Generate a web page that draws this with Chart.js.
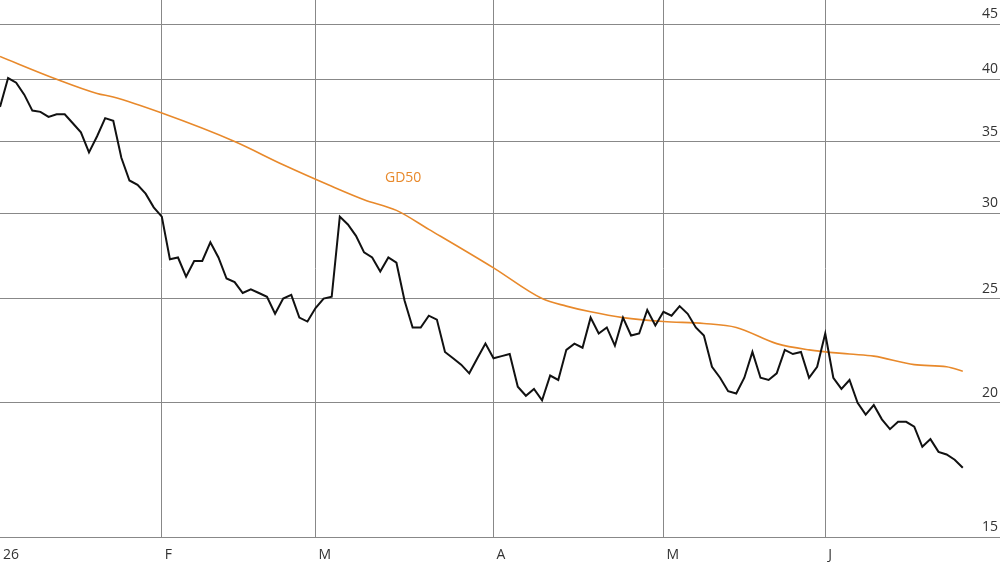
<!DOCTYPE html>
<html>
<head>
<meta charset="utf-8">
<script src="https://cdn.jsdelivr.net/npm/chart.js@4"></script>
<style>
html,body{margin:0;padding:0;background:#fff;}
#wrap{width:1000px;height:562px;}
</style>
</head>
<body>
<div id="wrap"><canvas id="chart"></canvas></div>
<script>
// closing price, one point per trading day
const price = [37.7,40.1,39.7,38.7,37.4,37.3,36.9,37.1,37.1,36.4,
  35.7,34.2,35.4,36.8,36.6,33.8,32.2,31.9,31.3,30.4,
  29.8,27.2,27.3,26.2,27.1,27.1,28.2,27.3,26.1,25.9,
  25.3,25.5,25.3,25.1,24.2,25.0,25.2,24.0,23.8,24.5,
  25.0,25.1,29.8,29.3,28.6,27.6,27.3,26.5,27.3,27.0,
  24.9,23.5,23.5,24.1,23.9,22.3,22.0,21.7,21.3,22.0,
  22.7,22.0,22.1,22.2,20.7,20.3,20.6,20.1,21.2,21.0,
  22.4,22.7,22.5,24.0,23.2,23.5,22.6,24.0,23.1,23.2,
  24.4,23.6,24.3,24.1,24.6,24.2,23.5,23.1,21.6,21.1,
  20.5,20.4,21.1,22.3,21.1,21.0,21.3,22.4,22.2,22.3,
  21.1,21.6,23.2,21.1,20.6,21.0,20.0,19.5,19.9,19.3,
  18.9,19.2,19.2,19.0,18.2,18.5,18.0,17.9,17.7,17.4];
// 50-day average, read at selected days
const gd50Days = [0,7,12,14,20,29,35,41,45,49,53,61,67,70,73,77,82,87,91,96,100,105,108,113,117,119];
const gd50 = [42.0,40.0,38.8,38.5,37.2,35.0,33.3,31.8,30.9,30.2,29.0,26.7,25.0,24.6,24.3,24.0,23.8,23.7,23.5,22.7,22.4,22.2,22.1,21.7,21.6,21.4];
const monthStarts = [0,20,39,61,82,102];
const monthLabels = ['26','F','M','A','M','J'];
const yTicks = [15,20,25,30,35,40,45];

const FONT = '"Open Sans", Lato, sans-serif';

const labelsPlugin = {
  id: 'labels',
  afterDraw(chart) {
    const c = chart.ctx, x = chart.scales.x, y = chart.scales.y;
    c.save();
    c.font = '14px ' + FONT;
    c.fillStyle = '#333';
    c.textBaseline = 'alphabetic';
    c.textAlign = 'left';
    monthStarts.forEach((d, i) => c.fillText(monthLabels[i], x.getPixelForValue(d) + 3, 559));
    c.textAlign = 'right';
    yTicks.forEach(v => c.fillText(String(v), 998, y.getPixelForValue(v) - 6));
    c.fillStyle = '#e8892b';
    c.textAlign = 'left';
    c.fillText('GD50', 385, 182);
    c.restore();
  }
};

new Chart(document.getElementById('chart'), {
  type: 'line',
  data: {
    datasets: [{
      data: price.map((v, i) => ({x: i, y: v})),
      borderColor: '#111',
      borderWidth: 2,
      pointRadius: 0,
      tension: 0
    }, {
      data: gd50.map((v, i) => ({x: gd50Days[i], y: v})),
      borderColor: '#e8892b',
      borderWidth: 1.6,
      pointRadius: 0,
      cubicInterpolationMode: 'monotone'
    }]
  },
  options: {
    responsive: true,
    maintainAspectRatio: false,
    animation: false,
    layout: {padding: {left: 0, right: 0, top: 0, bottom: 25}},
    plugins: {legend: {display: false}, tooltip: {enabled: false}},
    scales: {
      x: {
        type: 'linear', min: 0, max: 123.6,
        afterBuildTicks: s => { s.ticks = monthStarts.map(v => ({value: v})); },
        ticks: {display: false},
        grid: {color: ctx => ctx.tick && ctx.tick.value === 0 ? 'rgba(0,0,0,0)' : '#888', lineWidth: 1, drawTicks: false},
        border: {display: false}
      },
      y: {
        type: 'logarithmic', position: 'right', min: 15, max: 47.4,
        afterBuildTicks: s => { s.ticks = yTicks.map(v => ({value: v})); },
        ticks: {display: false},
        grid: {color: '#888', lineWidth: 1, drawTicks: false},
        border: {display: false}
      }
    }
  },
  plugins: [labelsPlugin]
});
</script>
</body>
</html>
